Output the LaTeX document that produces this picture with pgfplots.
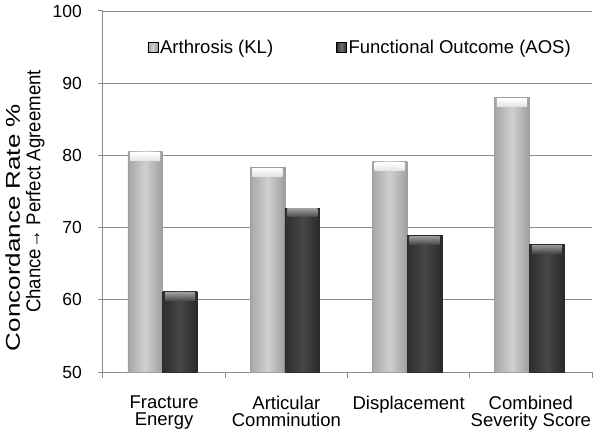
\documentclass[border=0pt]{standalone}
\usepackage{pgfplots}
\pgfplotsset{compat=1.18}
\usepackage{fontspec}
\setmainfont{Liberation Sans}
\definecolor{lightL}{HTML}{A6A6A6}
\definecolor{lightM}{HTML}{D0D0D0}
\definecolor{lightR}{HTML}{9E9E9E}
\definecolor{darkL}{HTML}{2E2E2E}
\definecolor{darkM}{HTML}{474747}
\definecolor{darkR}{HTML}{2A2A2A}
\definecolor{gridc}{HTML}{8C8C8C}
\pgfplotsset{
  lightbar/.style={ybar, forget plot, bar width=0.285, bar shift=-0.155, draw=lightR, line width=0.5pt,
    left color=lightL, right color=lightR, middle color=lightM,
    nodes near coords={}, every node near coord/.style={anchor=north, inner sep=0pt, minimum width=30pt, minimum height=8pt, top color=white, bottom color=lightM!60!white, xshift=-18.9pt, yshift=-0.6pt}},
  darkbar/.style={ybar, forget plot, bar width=0.285, bar shift=0.13, draw=darkR, line width=0.5pt,
    left color=darkL, right color=darkR, middle color=darkM,
    nodes near coords={}, every node near coord/.style={anchor=north, inner sep=0pt, minimum width=30pt, minimum height=8pt, top color=black!40, bottom color=darkM, xshift=15.9pt, yshift=-0.6pt}},
}
\begin{document}
\begin{tikzpicture}
\useasboundingbox (-103pt,-62pt) rectangle (498pt,372pt);
\begin{axis}[
  at={(0,0)}, anchor=south west,
  scale only axis, width=489pt, height=361pt,
  xmin=-0.5, xmax=3.5, ymin=50, ymax=100,
  ytick={50,60,...,100},
  xtick={0,1,2,3},
  xticklabels={{Fracture\\Energy},{Articular\\Comminution},{Displacement},{Combined\\Severity Score}},
  minor xtick={-0.5,0.5,1.5,2.5,3.5},
  major x tick style={draw=none},
  minor x tick style={draw=gridc, line width=1pt},
  minor tick length=6pt,
  major tick length=5pt,
  tick align=outside,
  ytick style={draw=gridc, line width=1pt},
  axis x line*=bottom, axis y line*=left,
  axis line style={draw=gridc, line width=1pt, -},
  ymajorgrids, grid style={draw=gridc, line width=0.8pt},
  yticklabel style={font=\fontsize{17.5}{18}\selectfont, anchor=east, inner sep=0pt, xshift=-16pt},
  xticklabel style={font=\fontsize{18.5}{17}\selectfont, align=center, anchor=north, inner sep=0pt, yshift=-19pt},
  /pgf/number format/assume math mode=true,
  ylabel={\begin{tabular}{@{}c@{}}\scalebox{1.3}[1]{Concordance Rate \%}\hspace*{72pt}\\ \scalebox{0.93}[1]{Chance→ Perfect Agreement}\end{tabular}},
  ylabel style={at={(rel axis cs:0,0.5)}, anchor=center, yshift=77pt, font=\fontsize{20}{20.5}\selectfont, inner sep=0pt},
  legend style={at={(0.526,0.9)}, anchor=center, draw=none, fill=none, legend columns=2,
    font=\fontsize{18.5}{20}\selectfont,
    /tikz/every even column/.append style={column sep=61pt},
    nodes={inner sep=2pt}},
]
\addlegendimage{legend image code/.code={\path[left color=lightL, right color=lightR, middle color=lightM] (0pt,-5pt) rectangle (10pt,5pt);}}
\addlegendentry{Arthrosis (KL)}
\addlegendimage{legend image code/.code={\path[left color=darkL, right color=darkR, middle color=black!55] (0pt,-5pt) rectangle (10pt,5pt);}}
\addlegendentry{Functional Outcome (AOS)}
% Arthrosis (KL)
\addplot[lightbar] coordinates {(0,80.5)};
\addplot[lightbar] coordinates {(1,78.35)};
\addplot[lightbar] coordinates {(2,79.1)};
\addplot[lightbar] coordinates {(3,88.0)};
% Functional Outcome (AOS)
\addplot[darkbar] coordinates {(0,61.1)};
\addplot[darkbar] coordinates {(1,72.7)};
\addplot[darkbar] coordinates {(2,68.9)};
\addplot[darkbar] coordinates {(3,67.7)};
\end{axis}
\end{tikzpicture}
\end{document}
